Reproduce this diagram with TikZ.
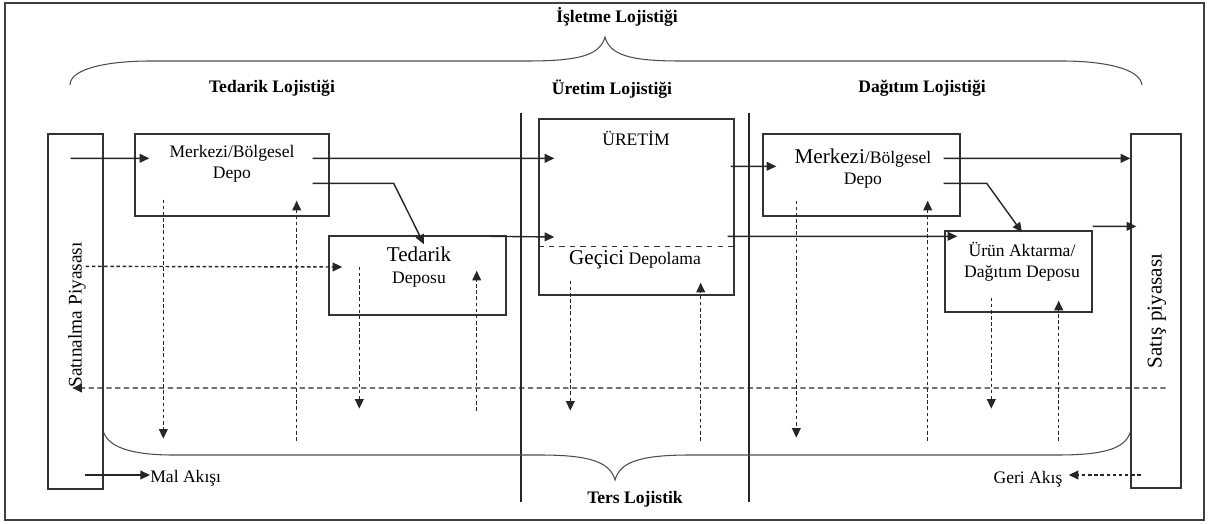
\documentclass[tikz,border=0pt]{standalone}
\usepackage{fontspec}
\setmainfont{Liberation Serif}
\usetikzlibrary{arrows.meta, calc}

\begin{document}
\begin{tikzpicture}[
  x=0.02cm, y=-0.02cm,
  depo/.style={rectangle, draw=black!80, line width=0.8pt, inner sep=0pt},
  baslik/.style={font=\bfseries},
  akis/.style={-{Triangle[length=5.5pt, width=5pt]}, line width=0.8pt, color=black!85},
  geri/.style={-{Triangle[length=5.5pt, width=5pt]}, line width=0.8pt, dash pattern=on 2pt off 1.5pt, color=black!85},
  kume/.style={line width=0.6pt, color=black!70},
  ayrac/.style={line width=0.6pt, color=black!85},
]
  \useasboundingbox (0,0) rectangle (1211,524);
  \draw[line width=1.2pt, black!75] (5,3) rectangle (1204,520);

  % kutular
  \node[depo, minimum width=1.10cm, minimum height=7.10cm] (satin) at (75.5,311.5) {};
  \node[depo, minimum width=3.88cm, minimum height=1.64cm] (mdepo1) at (232,175) {};
  \node[depo, minimum width=3.54cm, minimum height=1.58cm] (tdepo) at (417.5,275.5) {};
  \node[depo, minimum width=3.90cm, minimum height=3.52cm] (uretim) at (636.5,207) {};
  \node[depo, minimum width=3.94cm, minimum height=1.64cm] (mdepo2) at (861.5,175) {};
  \node[depo, minimum width=2.94cm, minimum height=1.62cm] (udepo) at (1018.5,271.5) {};
  \node[depo, minimum width=1.00cm, minimum height=7.08cm] (satis) at (1156,311) {};
  \draw[dashed, line width=0.7pt, black!80] ($(uretim.south west)+(0,-49)$) -- ($(uretim.south east)+(0,-49)$);

  % yazilar
  \node[rotate=90, font=\fontsize{11}{13}\selectfont] (satintxt) at (77,315) {Satınalma Piyasası};
  \node[rotate=90, font=\large] (satistxt) at (1157,311) {Satış piyasası};
  \node[align=center] (m1txt) at (232,164) {Merkezi/Bölgesel\\Depo};
  \node[align=center] (ttxt) at (419,267) {{\large Tedarik}\\[1pt]Deposu};
  \node (utxt) at (636,138) {ÜRETİM};
  \node (gtxt) at (635,260) {{\large Geçici} Depolama};
  \node[align=center] (m2txt) at (863,169) {{\large Merkezi}/Bölgesel\\Depo};
  \node[align=center] (dtxt) at (1022,262) {Ürün Aktarma/\\Dağıtım Deposu};

  \node[baslik] (isletme) at (617,17) {İşletme Lojistiği};
  \node[baslik] (tedarikl) at (272,88) {Tedarik Lojistiği};
  \node[baslik] (uretiml) at (612,89) {Üretim Lojistiği};
  \node[baslik] (dagitiml) at (922,88) {Dağıtım Lojistiği};
  \node[baslik] (ters) at (635,499) {Ters Lojistik};

  % ayraclar ve kume parantezleri
  \draw[ayrac] (521,113) -- (521,502);
  \draw[ayrac] (749,113) -- (749,502);
  \draw[kume] (70,85) .. controls (70,68) and (110,61) .. (150,61) -- (527,61)
    .. controls (580,61) and (600,55) .. (605,37) .. controls (610,55) and (630,61) .. (680,61)
    -- (1062,61) .. controls (1102,61) and (1140,68) .. (1142,85);
  \draw[kume] ($(satin.east)+(0,121)$) .. controls (110,450) and (140,455) .. (173,455) -- (540,455)
    .. controls (590,455) and (610,462) .. (615,480) .. controls (620,462) and (640,455) .. (690,455)
    -- (1057,455) .. controls (1100,455) and (1125,450) .. ($(satis.west)+(0,121)$);

  % mal akisi
  \draw[akis] ($(satin.north east)+(-33,25)$) -- ($(mdepo1.north west)+(15,25)$);
  \draw[akis] ($(mdepo1.north east)+(-17,25)$) -- ($(uretim.north west)+(16,40)$);
  \draw[akis] ($(mdepo1.north east)+(-17,50)$) -- ++(81,0) -- ($(tdepo.north)+(6.5,9)$);
  \draw[akis] ($(tdepo.north east)+(-16,1)$) -- ($(uretim.west)+(16,30)$);
  \draw[akis] ($(uretim.north east)+(-4,48)$) -- ($(mdepo2.north west)+(14,33)$);
  \draw[akis] ($(mdepo2.north east)+(-17,25)$) -- ($(satis.north west)+(0,25)$);
  \draw[akis] ($(mdepo2.north east)+(-17,50)$) -- ++(43,0) -- ($(udepo.north)+(3.5,2)$);
  \draw[akis] ($(uretim.north east)+(-7,118)$) -- ($(udepo.north west)+(13,6)$);
  \draw[akis] ($(udepo.north east)+(0,-4)$) -- ($(satis.north west)+(6,93)$);

  % geri akis
  \draw[geri] ($(satin.north east)+(-18,133)$) -- ($(tdepo.west)+(14,-8.5)$);
  \draw[geri, dash pattern=on 3pt off 2pt] ($(satis.east)+(-16,77)$) -- ($(satin.west)+(25,76.5)$);
  \draw[geri] ($(mdepo1.south west)+(29,-17)$) -- ($(mdepo1.south west)+(29,222)$);
  \draw[geri] ($(mdepo1.south east)+(-33,224)$) -- ($(mdepo1.south east)+(-33,-16)$);
  \draw[geri] ($(tdepo.south west)+(31,-49)$) -- ($(tdepo.south west)+(31,93)$);
  \draw[geri] ($(tdepo.south east)+(-30,95)$) -- ($(tdepo.south east)+(-30,-45)$);
  \draw[geri] ($(uretim.south west)+(32,-15)$) -- ($(uretim.south west)+(32,115)$);
  \draw[geri] ($(uretim.south east)+(-34,145)$) -- ($(uretim.south east)+(-34,-13)$);
  \draw[geri] ($(mdepo2.south west)+(34,-16)$) -- ($(mdepo2.south west)+(34,221)$);
  \draw[geri] ($(mdepo2.south east)+(-33,224)$) -- ($(mdepo2.south east)+(-33,-16)$);
  \draw[geri] ($(udepo.south west)+(47,-15)$) -- ($(udepo.south west)+(47,96)$);
  \draw[geri] ($(udepo.south east)+(-34,128)$) -- ($(udepo.south east)+(-34,-12)$);

  % aciklama
  \node[anchor=west, inner sep=0pt] (malakis) at (150,478) {Mal Akışı};
  \draw[akis] ($(malakis.west)+(-65,-3)$) -- ($(malakis.west)+(0,-3)$);
  \node[inner sep=0pt] (geriakis) at (1028,479) {Geri Akış};
  \draw[geri] ($(geriakis.east)+(78,-4)$) -- ($(geriakis.east)+(6,-4)$);
\end{tikzpicture}
\end{document}
